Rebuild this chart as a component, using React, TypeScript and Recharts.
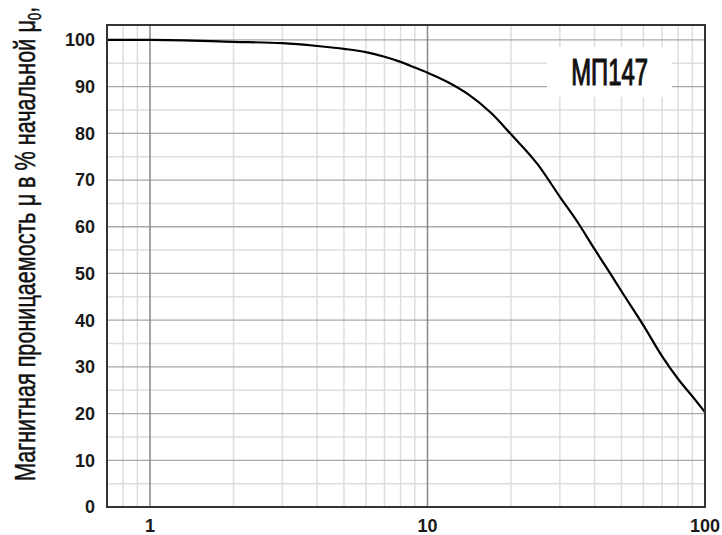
import React from 'react';
import { LineChart, Line, XAxis, YAxis, ReferenceLine, ReferenceArea } from 'recharts';

// Field strength (log axis) and relative permeability in %
const fieldValues = [0.7, 1, 2, 3, 4, 5, 6, 7, 8, 9, 10, 12, 14, 17, 20, 25, 30, 35, 40, 45, 50, 60, 70, 80, 90, 100];
const permeabilityValues = [100, 100, 99.6, 99.3, 98.7, 98.1, 97.4, 96.4, 95.3, 94.1, 93, 90.8, 88.4, 84.3, 79.8, 73.3, 66.4, 60.7, 55.2, 50.5, 46.2, 38.9, 32.3, 27.4, 23.7, 20.3];

const xTicks = [1, 10, 100];
const yTicks = [0, 10, 20, 30, 40, 50, 60, 70, 80, 90, 100];
const xMajorGrid = [1, 10];
const xMinorGrid = [0.8, 0.9, 2, 3, 4, 5, 6, 7, 8, 9, 20, 30, 40, 50, 60, 70, 80, 90];
const yMajorGrid = [10, 20, 30, 40, 50, 60, 70, 80, 90, 100];
const yMinorGrid = [5, 15, 25, 35, 45, 55, 65, 75, 85, 95];
const xDomain = [0.7, 100];
const yDomain = [0, 103.2];
const badgeText = 'МП147';
const badgeX = [27, 76];
const badgeY = [87.8, 98.5];
const yLabelMain = 'Магнитная проницаемость μ в % начальной μ';
const yLabelSub = '0';

const data = fieldValues.map((h, i) => ({ h, mu: permeabilityValues[i] }));

const CHART_W = 722;
const CHART_H = 535;
const MARGIN = { top: 25, right: 17, left: 0, bottom: 0 };
const Y_AXIS_W = 107;
const X_AXIS_H = 28;

const tickStyle = { fill: '#1a1a1a', fontSize: 18, fontWeight: 'bold' as const, fontFamily: '"Liberation Sans", Arial, sans-serif' };
const frameLine = { stroke: '#333', strokeWidth: 2 };

const renderYLabel = () => (
  <text
    transform="translate(35, 481) rotate(-90) scale(0.77, 1)"
    x={0}
    y={0}
    textAnchor="start"
    fontFamily='"Liberation Sans", Arial, sans-serif'
    fontSize={29}
    fill="#111"
    stroke="#111"
    strokeWidth={0.5}
    textLength={616}
    lengthAdjust="spacingAndGlyphs"
  >
    {yLabelMain}
    <tspan fontSize={18} dy={6}>{yLabelSub}</tspan>
    <tspan dy={-6}>,</tspan>
  </text>
);

const renderBadge = (props: any) => {
  const vb = props.viewBox || {};
  const cx = vb.x + vb.width / 2;
  const cy = vb.y + vb.height / 2;
  const fx = MARGIN.left + Y_AXIS_W;
  const fy = MARGIN.top;
  const fw = CHART_W - MARGIN.right - fx;
  const fh = CHART_H - MARGIN.bottom - X_AXIS_H - fy;
  return (
    <g>
      <rect x={fx} y={fy} width={fw} height={fh} fill="none" stroke="#333" strokeWidth={2} />
      <rect x={vb.x} y={vb.y} width={vb.width} height={vb.height} fill="#fff" />
      <text
        transform={`translate(${cx}, ${cy + 13}) scale(0.65, 1)`}
        x={0}
        y={0}
        textAnchor="middle"
        fontFamily='"Liberation Sans", Arial, sans-serif'
        fontSize={37}
        fill="#111"
        stroke="#111"
        strokeWidth={1.2}
        textLength={118}
        lengthAdjust="spacingAndGlyphs"
      >
        {badgeText}
      </text>
    </g>
  );
};

export default function App() {
  return (
    <div style={{ position: 'absolute', left: 0, top: 0, width: CHART_W, height: CHART_H, background: '#fff' }}>
      <LineChart width={CHART_W} height={CHART_H} data={data} margin={MARGIN}>
        <XAxis
          dataKey="h"
          type="number"
          scale="log"
          domain={xDomain}
          ticks={xTicks}
          allowDataOverflow
          height={X_AXIS_H}
          tickLine={false}
          tickMargin={6}
          axisLine={frameLine}
          tick={tickStyle}
        />
        <YAxis
          type="number"
          domain={yDomain}
          ticks={yTicks}
          allowDataOverflow
          width={Y_AXIS_W}
          tickLine={false}
          tickMargin={6}
          axisLine={frameLine}
          tick={tickStyle}
          label={renderYLabel}
        />
        {yMinorGrid.map((v) => (
          <ReferenceLine key={'ym' + v} y={v} stroke="#dedede" strokeWidth={1.5} />
        ))}
        {xMinorGrid.map((v) => (
          <ReferenceLine key={'xm' + v} x={v} stroke="#dedede" strokeWidth={1.5} />
        ))}
        {yMajorGrid.map((v) => (
          <ReferenceLine key={'yM' + v} y={v} stroke="#a8a8a8" strokeWidth={1.3} />
        ))}
        {xMajorGrid.map((v) => (
          <ReferenceLine key={'xM' + v} x={v} stroke="#888" strokeWidth={1.5} />
        ))}
        <ReferenceArea
          x1={badgeX[0]}
          x2={badgeX[1]}
          y1={badgeY[0]}
          y2={badgeY[1]}
          fill="#fff"
          fillOpacity={1}
          stroke="none"
          label={renderBadge}
          zIndex={1500}
        />
        <Line
          dataKey="mu"
          type="monotone"
          stroke="#000"
          strokeWidth={2.2}
          dot={false}
          isAnimationActive={false}
        />
      </LineChart>
    </div>
  );
}
